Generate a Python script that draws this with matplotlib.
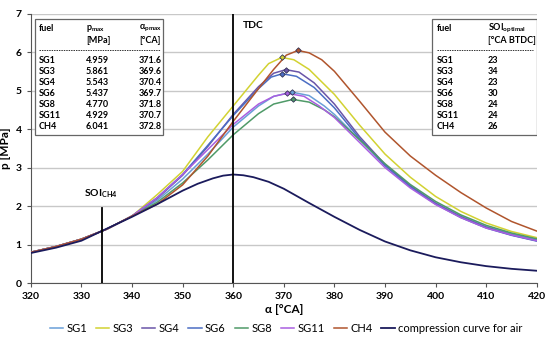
import matplotlib.pyplot as plt
from matplotlib.patches import Rectangle

plt.rcParams['font.family'] = ['Lato', 'DejaVu Sans']

# values
base_angle = [320, 325, 330, 335, 340]
base_p = [0.80, 0.95, 1.14, 1.40, 1.74]

sg1_angle = [345, 350, 355, 360, 365, 368, 371.6, 375, 378, 380, 385, 390, 395, 400, 405, 410, 415, 420]
sg1_p = [2.15, 2.70, 3.35, 4.05, 4.60, 4.85, 4.959, 4.87, 4.60, 4.38, 3.72, 3.07, 2.52, 2.08, 1.74, 1.47, 1.28, 1.13]

sg3_angle = [345, 350, 355, 360, 365, 367, 369.6, 372, 375, 380, 385, 390, 395, 400, 405, 410, 415, 420]
sg3_p = [2.30, 2.90, 3.80, 4.60, 5.40, 5.70, 5.861, 5.80, 5.55, 4.90, 4.10, 3.35, 2.75, 2.25, 1.86, 1.56, 1.34, 1.18]

sg4_angle = [345, 350, 355, 360, 365, 368, 370.4, 373, 376, 380, 385, 390, 395, 400, 405, 410, 415, 420]
sg4_p = [2.20, 2.80, 3.55, 4.38, 5.10, 5.45, 5.543, 5.48, 5.20, 4.65, 3.80, 3.08, 2.52, 2.07, 1.72, 1.45, 1.25, 1.10]

sg6_angle = [345, 350, 355, 360, 365, 367.5, 369.7, 372.5, 376, 380, 385, 390, 395, 400, 405, 410, 415, 420]
sg6_p = [2.22, 2.82, 3.58, 4.35, 5.05, 5.35, 5.437, 5.37, 5.08, 4.55, 3.75, 3.05, 2.50, 2.05, 1.70, 1.43, 1.24, 1.09]

sg8_angle = [345, 350, 355, 360, 365, 368, 371.8, 375, 378, 380, 385, 390, 395, 400, 405, 410, 415, 420]
sg8_p = [2.10, 2.60, 3.20, 3.85, 4.40, 4.65, 4.770, 4.70, 4.50, 4.32, 3.72, 3.10, 2.56, 2.12, 1.77, 1.50, 1.30, 1.15]

sg11_angle = [345, 350, 355, 360, 365, 368, 370.7, 374, 377, 380, 385, 390, 395, 400, 405, 410, 415, 420]
sg11_p = [2.22, 2.82, 3.47, 4.12, 4.65, 4.85, 4.929, 4.85, 4.60, 4.30, 3.65, 3.00, 2.47, 2.04, 1.70, 1.43, 1.25, 1.10]

ch4_angle = [345, 350, 355, 360, 365, 368, 370.5, 372.8, 375, 377.5, 380, 385, 390, 395, 400, 405, 410, 415, 420]
ch4_p = [2.05, 2.55, 3.30, 4.20, 5.05, 5.55, 5.92, 6.041, 5.98, 5.80, 5.50, 4.72, 3.92, 3.30, 2.80, 2.35, 1.95, 1.60, 1.35]

air_angle = [320, 325, 330, 334, 340, 345, 350, 353, 356, 358, 360, 362, 364, 367, 370, 375, 380, 385, 390, 395, 400, 405, 410, 415, 420]
air_p = [0.78, 0.92, 1.10, 1.35, 1.72, 2.05, 2.40, 2.58, 2.72, 2.79, 2.82, 2.80, 2.75, 2.63, 2.45, 2.08, 1.72, 1.38, 1.08, 0.85, 0.67, 0.54, 0.44, 0.37, 0.32]

fuels = ['SG1', 'SG3', 'SG4', 'SG6', 'SG8', 'SG11', 'CH4']
p_max = ['4.959', '5.861', '5.543', '5.437', '4.770', '4.929', '6.041']
a_pmax = ['371.6', '369.6', '370.4', '369.7', '371.8', '370.7', '372.8']
soi_opt = ['23', '34', '23', '30', '24', '24', '26']

curves = [
    ('SG1', sg1_angle, sg1_p, '#6a9fd8'),
    ('SG3', sg3_angle, sg3_p, '#d2d232'),
    ('SG4', sg4_angle, sg4_p, '#6a55a8'),
    ('SG6', sg6_angle, sg6_p, '#4b6ec4'),
    ('SG8', sg8_angle, sg8_p, '#4f9a68'),
    ('SG11', sg11_angle, sg11_p, '#a95fe0'),
    ('CH4', ch4_angle, ch4_p, '#b0552d'),
]

fig = plt.figure(figsize=(5.5, 3.39), dpi=100)
ax = fig.add_axes([0.056, 0.165, 0.92, 0.795])

for name, ang, p, col in curves:
    a = base_angle + ang
    y = base_p + p
    ax.plot(a, y, color=col, lw=1.1, label=name, zorder=3)
    i = p.index(max(p))
    ax.plot(ang[i], p[i], marker='D', ms=2.8, color=col, mec='#333355', mew=0.6, zorder=4)

ax.plot(air_angle, air_p, color='#1b1b5c', lw=1.3, label='compression curve for air', zorder=3)

# TDC and SOI markers
ax.plot([360, 360], [0, 7], color='black', lw=1.3, zorder=5)
ax.plot([334, 334], [0, 1.95], color='black', lw=1.3, zorder=5)
ax.text(362, 6.7, 'TDC', fontsize=7.5, fontweight='bold', va='center')
ax.text(333.8, 2.33, r'SOI$_{\mathregular{CH4}}$', fontsize=7.5, fontweight='bold', ha='center', va='center')

ax.set_xlim(320, 420)
ax.set_ylim(0, 7)
ax.set_xticks(range(320, 421, 10))
ax.set_yticks(range(0, 8))
ax.grid(axis='y', color='#c8c8c8', lw=1.0)
ax.set_axisbelow(True)
for s in ['top', 'right']:
    ax.spines[s].set_visible(False)
ax.spines['left'].set_color('#555555')
ax.spines['bottom'].set_color('#555555')
ax.tick_params(labelsize=7.5, length=3, color='#555555')
for lab in ax.get_xticklabels() + ax.get_yticklabels():
    lab.set_fontweight('bold')
ax.set_xlabel('α [°CA]', fontsize=8.5, fontweight='bold', labelpad=2)
ax.set_ylabel('p [MPa]', fontsize=8.5, fontweight='bold', labelpad=3)


def fx(px):
    return (px - 31) / 506


def fy(py):
    return (283 - py) / 269.5


# left table
ax.add_patch(Rectangle((fx(35), fy(135)), fx(163) - fx(35), fy(19) - fy(135), transform=ax.transAxes,
                       facecolor='white', edgecolor='#666666', lw=0.9, zorder=6))
tk = dict(transform=ax.transAxes, fontsize=6.5, fontweight='bold', zorder=7, va='center')
ax.text(fx(39), fy(28), 'fuel', **tk)
ax.text(fx(86), fy(28), r'p$_{\mathregular{max}}$', **tk)
ax.text(fx(86), fy(40), '[MPa]', **tk)
ax.text(fx(139), fy(28), r'α$_{\mathregular{pmax}}$', **tk)
ax.text(fx(139), fy(40), '[°CA]', **tk)
ax.plot([fx(39), fx(160)], [fy(50), fy(50)], transform=ax.transAxes, color='#333333', lw=0.7, ls=(0, (1.5, 1)), zorder=7)
for k in range(len(fuels)):
    yy = fy(60 + 11.1 * k)
    ax.text(fx(39), yy, fuels[k], **tk)
    ax.text(fx(86), yy, p_max[k], **tk)
    ax.text(fx(139), yy, a_pmax[k], **tk)

# right table
ax.add_patch(Rectangle((fx(432), fy(135)), fx(537) - fx(432), fy(19) - fy(135), transform=ax.transAxes,
                       facecolor='white', edgecolor='#666666', lw=0.9, zorder=6))
ax.text(fx(437), fy(28), 'fuel', **tk)
ax.text(fx(488), fy(28), r'SOI$_{\mathregular{optimal}}$', **tk)
ax.text(fx(488), fy(40), '[°CA BTDC]', **tk)
ax.plot([fx(437), fx(533)], [fy(50), fy(50)], transform=ax.transAxes, color='#333333', lw=0.7, ls=(0, (1.5, 1)), zorder=7)
for k in range(len(fuels)):
    yy = fy(60 + 11.1 * k)
    ax.text(fx(437), yy, fuels[k], **tk)
    ax.text(fx(488), yy, soi_opt[k], **tk)

handles, labels = ax.get_legend_handles_labels()
fig.legend(handles, labels, loc='lower center', bbox_to_anchor=(0.52, -0.015), ncol=8, frameon=False,
           fontsize=8, handlelength=1.2, handletextpad=0.3, columnspacing=0.8)

fig.savefig('out.png', dpi=100)
